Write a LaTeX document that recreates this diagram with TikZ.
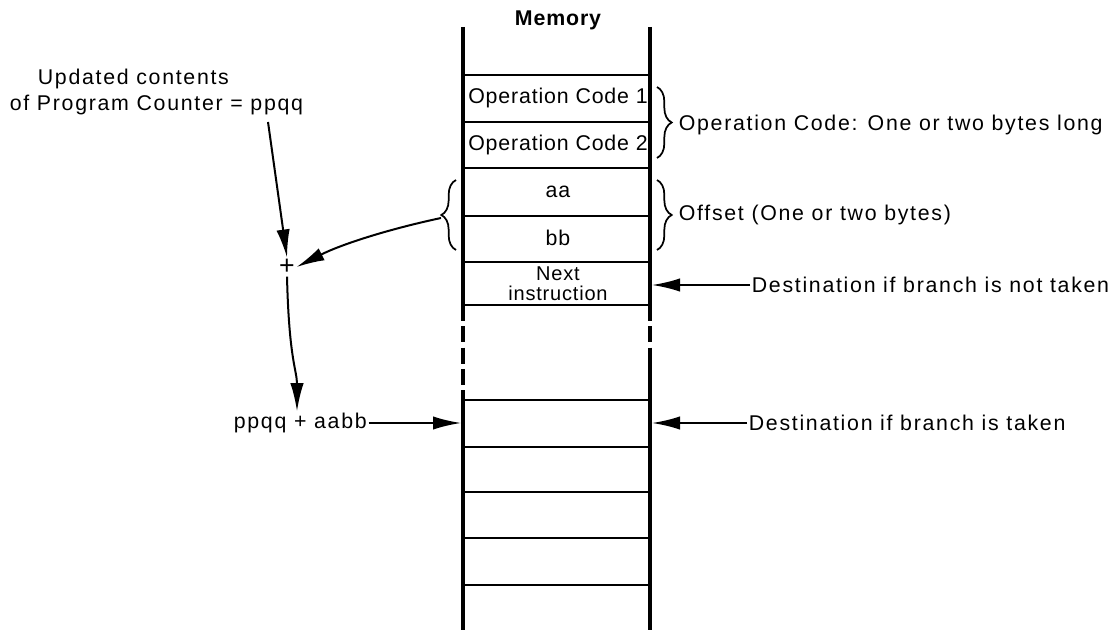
\documentclass[tikz,border=0pt]{standalone}
\usepackage{fontspec}
\setmainfont[LetterSpace=4]{Liberation Sans}
\usetikzlibrary{arrows.meta,decorations.pathreplacing}

\tikzset{every picture/.style={line width=0.75pt}}
\tikzset{
	wall/.style={line width=3pt},
	cellline/.style={line width=1.6pt},
	pointer/.style={line width=1.5pt,-{Latex[length=21pt,width=10pt]}},
	curly/.style={decorate,decoration={brace,amplitude=11pt},line width=1.3pt},
	txt/.style={font=\fontsize{16}{15}\selectfont,inner sep=1pt},
	lbl/.style={font=\fontsize{16}{15}\selectfont\addfontfeatures{LetterSpace=8},anchor=west}}

\begin{document}
\begin{tikzpicture}[x=0.75pt,y=0.75pt,yscale=-1,xscale=1,every node/.style={txt}]
	\path[use as bounding box] (0,0) rectangle (1113,630);

	%Shape: Memory walls
	\draw[wall] (463,27) -- (463,305) ;
	\draw[wall,dash pattern=on 12pt off 4pt] (463,305) -- (463,400) ;
	\draw[wall] (463,400) -- (463,632) ;
	\draw[wall] (650,27) -- (650,305) ;
	\draw[wall,dash pattern=on 12pt off 4pt] (650,305) -- (650,352) ;
	\draw[wall] (650,352) -- (650,632) ;
	%Shape: Memory cells
	\foreach \y in {75,122,168,216,262,305,400,447,492,538,585}
		\draw[cellline] (463,\y) -- (650,\y) ;

	% Text Node
	\node[font=\fontsize{16}{15}\selectfont\bfseries] (mem) at (558,20) {Memory};
	% Text Node
	\node (opc1) at (558,98) {Operation Code 1};
	% Text Node
	\node (opc2) at (558,145) {Operation Code 2};
	% Text Node
	\node (aa) at (558,192) {aa};
	% Text Node
	\node (bb) at (558,238) {bb};
	% Text Node
	\node[align=center,font=\fontsize{15}{15}\selectfont] (nxt) at (558,284) {Next\\instruction};

	%Shape: Braces
	\draw[curly] (657,87) -- (657,158) ;
	\draw[curly] (657,180) -- (657,250) ;
	\draw[curly] (456,250) -- (456,180) ;

	% Text Node
	\node[lbl] (opcL) at (677,125) {Operation Code: One or two bytes long};
	% Text Node
	\node[lbl] (offL) at (677,215) {Offset (One or two bytes)};
	% Text Node
	\node[lbl] (notTk) at (750,285) {Destination if branch is not taken};
	% Text Node
	\node[lbl] (tk) at (747,423) {Destination if branch is taken};
	% Text Node
	\node[lbl] (upd1) at (36,79) {Updated contents};
	% Text Node
	\node[lbl] (upd2) at (8,105) {of Program Counter = ppqq};
	% Text Node
	\node[font=\fontsize{20}{20}\selectfont] (plus) at (287,267) {+};
	% Text Node
	\node[lbl] (sum) at (232,423) {ppqq + aabb};

	\coordinate (pcOut) at (268,122) ;
	\coordinate (offTip) at (441,218) ;
	\coordinate (nxtIn) at (652,285) ;
	\coordinate (tkIn) at (652,423) ;
	\coordinate (sumIn) at (461,423) ;

	%Arrows
	\draw[pointer] (pcOut) -- (plus.north) ;
	\draw[pointer] (offTip) .. controls (385,230) and (340,245) .. (plus.east) ;
	\draw[pointer] (plus.south) .. controls (289,360) and (297,370) .. (sum.north -| 297,0) ;
	\draw[pointer] (sum.east) -- (sumIn) ;
	\draw[pointer] (notTk.west) -- (nxtIn) ;
	\draw[pointer] (tk.west) -- (tkIn) ;

\end{tikzpicture}
\end{document}
